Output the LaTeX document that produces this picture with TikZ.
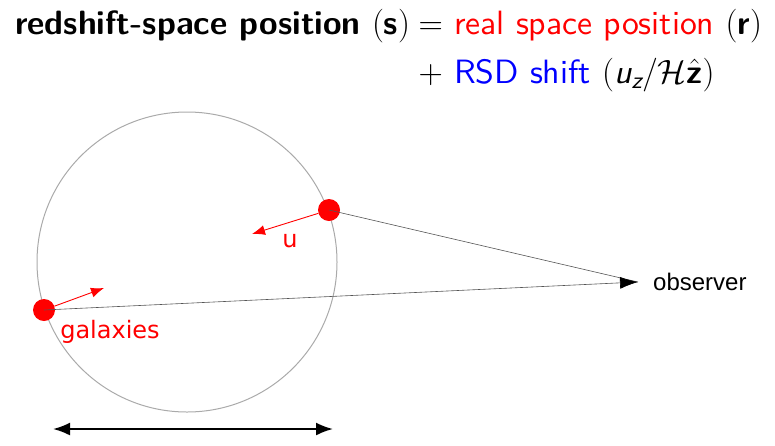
\RequirePackage{fix-cm}
\documentclass[tikz,border=0pt]{standalone}
\usepackage{amsmath}
\usepackage{fontspec}
\setsansfont{lmsans10-regular.otf}[BoldFont=lmsans10-bold.otf, ItalicFont=lmsans10-oblique.otf, BoldItalicFont=lmsans10-boldoblique.otf]
\usepackage{tikz}
\usetikzlibrary{arrows.meta, positioning}
\newfontfamily\obsfont{Liberation Sans}
\newfontfamily\galfont{DejaVu Sans}
\definecolor{spheregray}{RGB}{170,170,170}
\definecolor{sightgray}{RGB}{85,85,85}

\begin{document}
\begin{tikzpicture}[
    x=1pt, y=-1pt,
    title/.style={anchor=base west, inner sep=0pt, font=\sffamily\fontsize{33.7}{40}\selectfont},
    galaxy/.style={circle, fill=red, inner sep=0pt, minimum size=22pt},
    velocity/.style={-{Latex[length=13pt,width=10pt]}, red, line width=0.9pt},
    sight/.style={sightgray, line width=0.6pt},
    redtext/.style={red, inner sep=0pt, font=\galfont\fontsize{24}{28}\selectfont}
]
    \useasboundingbox (0,0) rectangle (775,445);

    % Title
    \node[title] (lhs) at (15,34) {\textbf{redshift-space position} $(\textbf{s})$};
    \node[title] (rhs) at ([xshift=8pt]lhs.base east) {$=$ \textcolor{red}{real space position} $(\textbf{r})$};
    \node[title] (rsd) at ([yshift=-49pt]rhs.base west) {$+$ \textcolor{blue}{RSD shift} $(\textit{u}_{\textit{z}}/\mathcal{H}\hat{\textbf{z}})$};

    % Sphere and galaxies
    \node[circle, draw=spheregray, line width=1pt, minimum size=300pt, inner sep=0pt] (sphere) at (187,262) {};
    \node[galaxy] (near) at (329,210) {};
    \node[galaxy] (far) at (44,310) {};
    \coordinate (unear) at (252,234);
    \coordinate (ufar) at (104,288);
    \node[redtext] (u) at (290,241) {u};
    \node[redtext] (galaxies) at (110,332) {galaxies};

    % Observer
    \coordinate (eye) at (638,282);
    \node[right=15pt of eye, inner sep=0pt, font=\obsfont\fontsize{24}{28}\selectfont] (observer) {observer};

    % Lines of sight
    \draw[sight] (near.center) -- (eye);
    \draw[sight, -{Latex[black, length=18pt, width=12pt]}] (far.center) -- (eye);

    % Velocities
    \draw[velocity] (near) -- (unear);
    \draw[velocity] (far) -- (ufar);

    % Scale
    \coordinate (scaleL) at (53,429);
    \coordinate (scaleR) at (333,429);
    \draw[{Latex[length=17pt,width=13pt]}-{Latex[length=17pt,width=13pt]}, line width=2pt] (scaleL) -- (scaleR);
\end{tikzpicture}
\end{document}
